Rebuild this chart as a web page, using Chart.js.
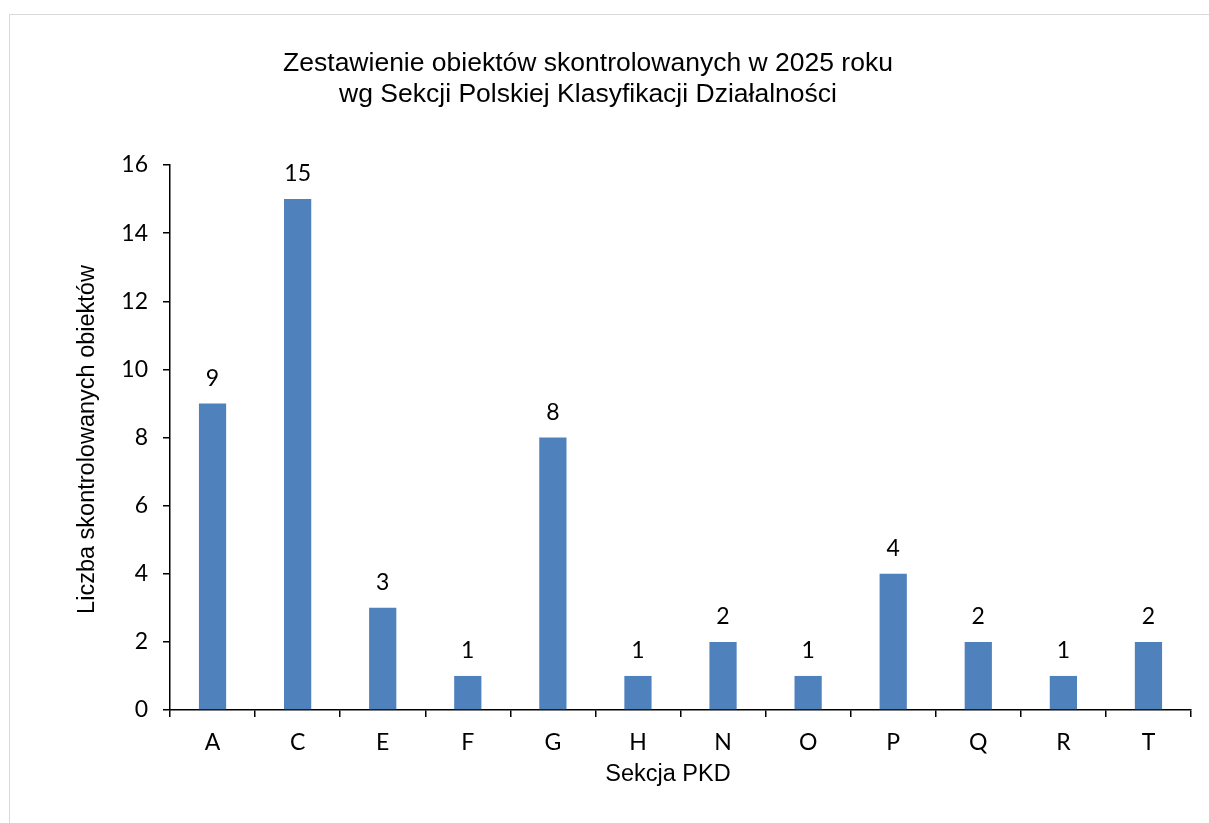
<!DOCTYPE html>
<html>
<head>
<meta charset="utf-8">
<script src="https://cdn.jsdelivr.net/npm/chart.js@4/dist/chart.umd.min.js"></script>
<style>
  html, body { margin: 0; padding: 0; background: #fff; overflow: hidden; }
</style>
</head>
<body>
<canvas id="chart" width="1209" height="823"></canvas>
<script>
// chart data
const sections = ['A', 'C', 'E', 'F', 'G', 'H', 'N', 'O', 'P', 'Q', 'R', 'T'];
const counts = [9, 15, 3, 1, 8, 1, 2, 1, 4, 2, 1, 2];
const titleLines = ['Zestawienie obiektów skontrolowanych w 2025 roku', 'wg Sekcji Polskiej Klasyfikacji Działalności'];
const xTitle = 'Sekcja PKD';
const yTitle = 'Liczba skontrolowanych obiektów';

const textFont = '"Liberation Sans", Arial, sans-serif';
const tickFont = 'Lato, "Noto Sans", sans-serif';

// frame, titles and value labels
const decorations = {
  id: 'decorations',
  beforeDraw(chart) {
    const ctx = chart.ctx;
    ctx.save();
    ctx.fillStyle = '#fff';
    ctx.fillRect(0, 0, chart.width, chart.height);
    ctx.strokeStyle = '#d9d9d9';
    ctx.lineWidth = 1;
    ctx.strokeRect(9.5, 14.5, 1400, 1000);
    ctx.restore();
  },
  afterDraw(chart) {
    const ctx = chart.ctx;
    const area = chart.chartArea;
    ctx.save();
    ctx.fillStyle = '#000';
    ctx.textAlign = 'center';
    ctx.textBaseline = 'middle';

    ctx.font = '26.5px ' + textFont;
    ctx.fillText(titleLines[0], 588, 64);
    ctx.fillText(titleLines[1], 588, 95);

    ctx.font = '23.5px ' + textFont;
    ctx.fillText(xTitle, 668, 775);
    ctx.save();
    ctx.translate(88, (area.top + area.bottom) / 2 + 2);
    ctx.rotate(-Math.PI / 2);
    ctx.fillText(yTitle, 0, 0);
    ctx.restore();

    // value labels above bars
    ctx.font = '23px ' + tickFont;
    chart.getDatasetMeta(0).data.forEach((bar, i) => {
      ctx.fillText(String(counts[i]), bar.x, bar.y - 25);
    });
    ctx.restore();
  }
};

new Chart(document.getElementById('chart'), {
  type: 'bar',
  data: {
    labels: sections,
    datasets: [{
      data: counts,
      backgroundColor: '#4f81bd',
      categoryPercentage: 1,
      barPercentage: 0.32
    }]
  },
  options: {
    responsive: false,
    animation: false,
    layout: { padding: { left: 0, top: 165, right: 18, bottom: 0 } },
    plugins: {
      legend: { display: false },
      tooltip: { enabled: false },
      title: { display: false }
    },
    scales: {
      x: {
        offset: true,
        grid: { offset: true, drawOnChartArea: false, drawTicks: true, tickLength: 7, color: '#000', tickColor: '#000', lineWidth: 1.5 },
        border: { display: true, color: '#000', width: 1.5 },
        ticks: { color: '#000', padding: 12, font: { family: tickFont, size: 23 } },
        afterFit(scale) { scale.height = 113; }
      },
      y: {
        min: 0,
        max: 16,
        grid: { drawOnChartArea: false, drawTicks: true, tickLength: 7, color: '#000', tickColor: '#000', lineWidth: 1.5 },
        border: { display: true, color: '#000', width: 1.5 },
        ticks: { stepSize: 2, color: '#000', padding: 15, font: { family: tickFont, size: 23 } },
        afterFit(scale) { scale.width = 170; }
      }
    }
  },
  plugins: [decorations]
});
</script>
</body>
</html>
